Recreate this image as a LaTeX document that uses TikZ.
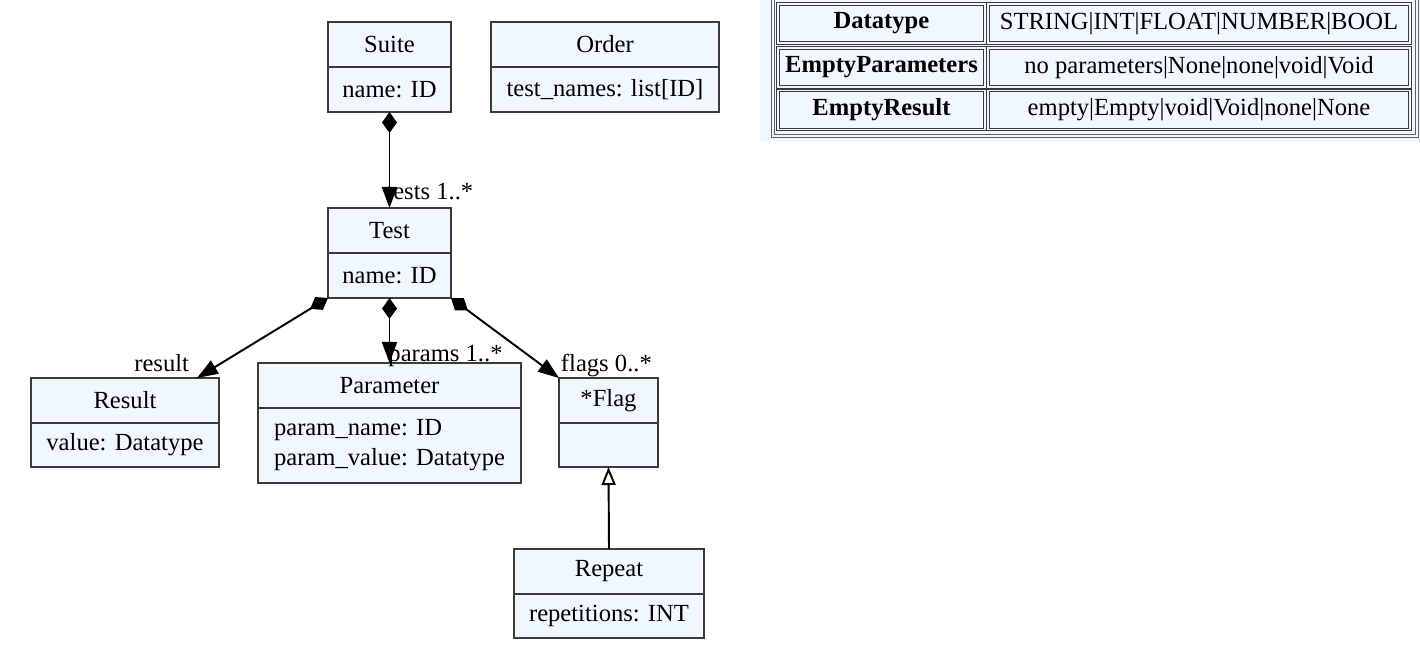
\documentclass[tikz,border=0pt]{standalone}
\usepackage{fontspec}
\setmainfont{Liberation Serif}
\usetikzlibrary{positioning,arrows.meta}
\definecolor{boxfill}{HTML}{F0F7FF}
\definecolor{boxline}{HTML}{3A3A3A}
\begin{document}
\begin{tikzpicture}[font=\fontsize{14}{17}\selectfont,
  cls/.style={draw=boxline,fill=boxfill,line width=0.9pt,inner sep=2pt,outer sep=0pt,minimum height=0.9cm},
  attr/.style={cls,align=left},
  comp/.style={line width=1.1pt,{Diamond[length=0.42cm,width=0.3cm]}-{Triangle[length=0.42cm,width=0.3cm]}},
  inh/.style={line width=1.1pt,-{Triangle[open,fill=white,length=0.36cm,width=0.28cm]}},
  role/.style={inner sep=0pt},
  cell/.style={draw=boxline,double=boxfill,double distance=1pt,line width=0.5pt,fill=boxfill,minimum height=0.78cm,inner sep=0pt,outer sep=0pt}]
\useasboundingbox (0,0) rectangle (28.4,-13);
% Classes
\node[cls,minimum width=2.46cm] (suite) at (7.79,-0.89) {Suite};
\node[attr,minimum width=2.46cm,below=0pt of suite] (suiteb) {name: ID};
\node[cls,minimum width=4.56cm] (order) at (12.1,-0.89) {Order};
\node[attr,minimum width=4.56cm,below=0pt of order] (orderb) {test\_names: list[ID]};
\node[cls,minimum width=2.46cm] (test) at (7.79,-4.61) {Test};
\node[attr,minimum width=2.46cm,below=0pt of test] (testb) {name: ID};
\node[cls,minimum width=3.76cm] (result) at (2.5,-8.01) {Result};
\node[attr,minimum width=3.76cm,minimum height=0.88cm,below=0pt of result] (resultb) {value: Datatype};
\node[cls,minimum width=5.26cm] (param) at (7.79,-7.71) {Parameter};
\node[attr,minimum width=5.26cm,minimum height=1.5cm,below=0pt of param] (paramb) {param\_name: ID\\param\_value: Datatype};
\node[cls,minimum width=1.98cm] (flag) at (12.17,-8.01) {*Flag};
\node[attr,minimum width=1.98cm,minimum height=0.88cm,below=0pt of flag] (flagb) {};
\node[cls,minimum width=3.8cm] (repeat) at (12.18,-11.43) {Repeat};
\node[attr,minimum width=3.8cm,minimum height=0.88cm,below=0pt of repeat] (repeatb) {repetitions: INT};
% Compositions
\draw[comp](suiteb.south)--(test.north)node[role,anchor=base west,xshift=-0.08cm,yshift=0.16cm](tests){tests 1..*};
\draw[comp](testb.south west)--([xshift=-0.44cm]result.north east)node[role,anchor=base east,xshift=-0.14cm,yshift=0.12cm](res){result};
\draw[comp](testb.south)--(param.north)node[role,anchor=base west,xshift=-0.04cm,yshift=0.02cm](params){params 1..*};
\draw[comp](testb.south east)--(flag.north west)node[role,anchor=base west,xshift=0.02cm,yshift=0.12cm](flags){flags 0..*};
% Inheritance
\draw[inh](repeat.north)--(flagb.south);
% Table
\fill[boxfill](15.2,0)rectangle(28.4,-2.84);
\draw[boxline!80,double=boxfill,double distance=0.8pt,line width=0.6pt](15.46,0.1)rectangle(28.34,-2.72);
\node[cell,minimum width=4.14cm](dt)at(17.63,-0.47){\textbf{Datatype}};
\node[cell,minimum width=8.44cm](dtv)at(23.98,-0.47){STRING|INT|FLOAT|NUMBER|BOOL};
\node[cell,minimum width=4.14cm](ep)at(17.63,-1.35){\textbf{EmptyParameters}};
\node[cell,minimum width=8.44cm](epv)at(23.98,-1.35){no parameters|None|none|void|Void};
\node[cell,minimum width=4.14cm](er)at(17.63,-2.2){\textbf{EmptyResult}};
\node[cell,minimum width=8.44cm](erv)at(23.98,-2.2){empty|Empty|void|Void|none|None};
\end{tikzpicture}
\end{document}
